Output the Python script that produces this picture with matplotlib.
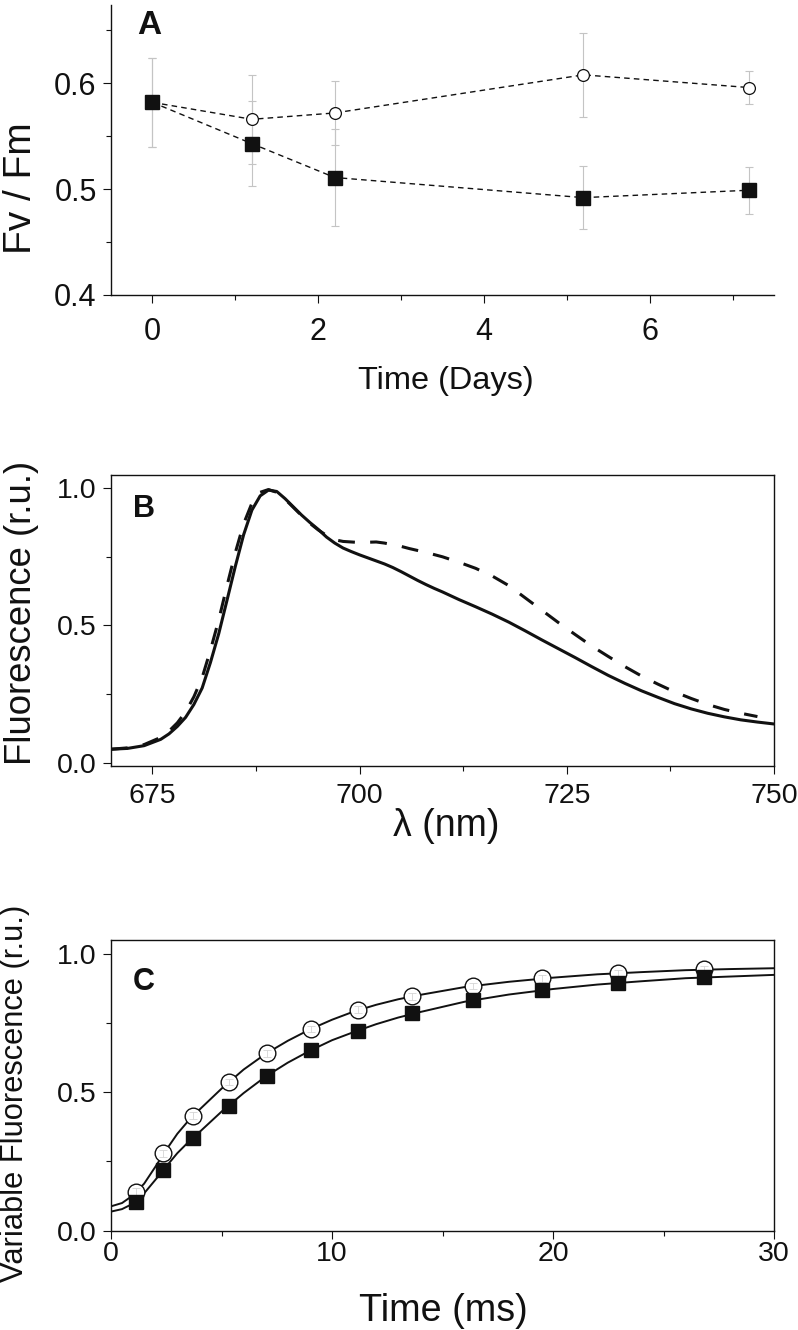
import numpy as np
import matplotlib
matplotlib.use("Agg")
import matplotlib.pyplot as plt
from matplotlib.ticker import MultipleLocator, FormatStrFormatter

W, H = 798, 1330
INK = "#111111"
ERR = "#c4c4c4"

plt.rcParams.update({"font.family": ["Liberation Sans", "DejaVu Sans"],
                     "text.color": INK, "axes.edgecolor": INK,
                     "xtick.color": INK, "ytick.color": INK})

# --- panel A: Fv/Fm over days
days = [0, 1.2, 2.2, 5.2, 7.2]
fvfm_open = [0.582, 0.566, 0.572, 0.608, 0.596]
fvfm_open_err = [0.042, 0.042, 0.030, 0.040, 0.016]
fvfm_fill = [0.582, 0.543, 0.511, 0.492, 0.499]
fvfm_fill_err = [0.042, 0.040, 0.046, 0.030, 0.022]

# --- panel B: emission spectra
wl_solid = [670, 672, 674, 676, 677, 678, 679, 680, 681, 682, 683, 684, 685, 686, 687,
            688, 689, 690, 691, 692, 693, 694, 695, 696, 697, 698, 699, 700, 701, 702,
            703, 704, 705, 706, 707, 708, 709, 710, 712, 714, 716, 718, 720, 722, 724,
            726, 728, 730, 732, 734, 736, 738, 740, 742, 744, 746, 748, 750]
fl_solid = [0.049, 0.052, 0.062, 0.085, 0.105, 0.132, 0.165, 0.212, 0.272, 0.365, 0.470,
            0.592, 0.715, 0.830, 0.920, 0.972, 0.993, 0.988, 0.962, 0.932, 0.902, 0.875,
            0.850, 0.822, 0.800, 0.782, 0.769, 0.757, 0.746, 0.735, 0.724, 0.711, 0.696,
            0.680, 0.664, 0.649, 0.635, 0.622, 0.594, 0.568, 0.541, 0.512, 0.480, 0.447,
            0.415, 0.383, 0.350, 0.318, 0.289, 0.262, 0.238, 0.215, 0.196, 0.180, 0.167,
            0.156, 0.148, 0.141]
wl_dash = [670, 672, 674, 676, 677, 678, 679, 680, 681, 682, 683, 684, 685, 686, 687, 688,
           689, 690, 691, 692, 693, 694, 695, 696, 697, 698, 699, 700, 701, 702, 703, 704,
           705, 706, 708, 710, 712, 714, 716, 718, 720, 722, 724, 726, 728, 730, 732, 734,
           736, 738, 740, 742, 744, 746, 748]
fl_dash = [0.049, 0.054, 0.066, 0.092, 0.115, 0.145, 0.185, 0.240, 0.310, 0.410, 0.520,
           0.645, 0.765, 0.870, 0.945, 0.985, 0.995, 0.985, 0.960, 0.930, 0.900, 0.872,
           0.848, 0.828, 0.812, 0.806, 0.804, 0.802, 0.803, 0.804, 0.800, 0.794, 0.788,
           0.780, 0.766, 0.750, 0.730, 0.708, 0.680, 0.645, 0.600, 0.555, 0.510, 0.467,
           0.425, 0.387, 0.350, 0.316, 0.286, 0.258, 0.234, 0.212, 0.194, 0.180, 0.168]

# --- panel C: variable fluorescence rise
t_pts = [1.13, 2.37, 3.70, 5.33, 7.04, 9.04, 11.19, 13.63, 16.39, 19.49, 22.93, 26.83]
vf_open = [0.141, 0.280, 0.415, 0.537, 0.641, 0.728, 0.798, 0.846, 0.884, 0.912, 0.930, 0.945]
vf_open_err = [0.012] * 12
vf_fill = [0.103, 0.219, 0.336, 0.451, 0.559, 0.651, 0.723, 0.788, 0.834, 0.870, 0.894, 0.916]
t_fit = [0, 0.5, 1.0, 1.5, 2.0, 2.5, 3.0, 3.5, 4.0, 5, 6, 7, 8, 9, 10, 11, 12, 13, 14,
         16, 18, 20, 22, 24, 26, 28, 30]
fit_open = [0.088, 0.100, 0.128, 0.170, 0.230, 0.292, 0.350, 0.397, 0.437, 0.513, 0.582,
            0.639, 0.686, 0.727, 0.762, 0.792, 0.816, 0.836, 0.852, 0.880, 0.899, 0.914,
            0.926, 0.934, 0.941, 0.945, 0.948]
fit_fill = [0.069, 0.078, 0.098, 0.135, 0.183, 0.232, 0.280, 0.320, 0.356, 0.430, 0.497,
            0.557, 0.607, 0.650, 0.688, 0.718, 0.746, 0.770, 0.790, 0.827, 0.853, 0.873,
            0.889, 0.901, 0.912, 0.918, 0.924]


def axes_px(fig, left, top, right, bottom):
    return fig.add_axes([left / W, 1 - bottom / H, (right - left) / W, (bottom - top) / H])


def ftext(fig, x, y, s, **kw):
    fig.text(x / W, 1 - y / H, s, ha="center", va="center", **kw)


def style(ax, labelsize, xpad, ypad=4.3):
    for s in ax.spines.values():
        s.set_linewidth(1.0)
    ax.tick_params(which="major", direction="out", length=6, width=0.8,
                   labelsize=labelsize, top=False, right=False)
    ax.tick_params(which="minor", direction="out", length=3.5, width=0.8,
                   top=False, right=False)
    ax.tick_params(axis="x", which="major", pad=xpad)
    ax.tick_params(axis="y", which="major", pad=ypad)


fig = plt.figure(figsize=(W / 100, H / 100), dpi=100)

# A
ax = axes_px(fig, 111, 5, 774, 295)
ax.errorbar(days, fvfm_open, yerr=fvfm_open_err, fmt="none", ecolor=ERR,
            elinewidth=0.8, capsize=3, capthick=0.8, zorder=1)
ax.errorbar(days, fvfm_fill, yerr=fvfm_fill_err, fmt="none", ecolor=ERR,
            elinewidth=0.8, capsize=3, capthick=0.8, zorder=1)
ax.plot(days, fvfm_open, color=INK, lw=1.0, ls="--", dashes=(4, 3), marker="o",
        ms=8.5, mfc="white", mec=INK, mew=0.9, zorder=3)
ax.plot(days, fvfm_fill, color=INK, lw=1.0, ls="--", dashes=(4, 3), marker="s",
        ms=10, mfc=INK, mec=INK, zorder=4)
ax.set_xlim(-0.5, 7.5)
ax.set_ylim(0.4, 0.674)
ax.xaxis.set_major_locator(MultipleLocator(2))
ax.xaxis.set_minor_locator(MultipleLocator(1))
ax.yaxis.set_major_locator(MultipleLocator(0.1))
ax.yaxis.set_minor_locator(MultipleLocator(0.05))
ax.yaxis.set_major_formatter(FormatStrFormatter("%.1f"))
ax.spines["top"].set_visible(False)
ax.spines["right"].set_visible(False)
style(ax, 22, 10)
ax.text(0.057, 0.931, "A", transform=ax.transAxes, ha="center", va="center",
        fontsize=24, fontweight="bold")
ftext(fig, 21, 188, "Fv / Fm", fontsize=28, rotation=90)
ftext(fig, 446, 381, "Time (Days)", fontsize=23.4)

# B
ax = axes_px(fig, 111, 475, 774, 765.7)
ax.plot(wl_solid, fl_solid, color=INK, lw=2.2, solid_capstyle="round", zorder=3)
ax.plot(wl_dash, fl_dash, color=INK, lw=2.2, ls="--", dashes=(5.5, 5), zorder=2)
ax.set_xlim(670, 750)
ax.set_ylim(-0.011, 1.048)
ax.xaxis.set_major_locator(MultipleLocator(25))
ax.xaxis.set_minor_locator(MultipleLocator(12.5))
ax.yaxis.set_major_locator(MultipleLocator(0.5))
ax.yaxis.set_minor_locator(MultipleLocator(0.25))
ax.yaxis.set_major_formatter(FormatStrFormatter("%.1f"))
style(ax, 20.5, 6.5)
ax.text(0.05, 0.883, "B", transform=ax.transAxes, ha="center", va="center",
        fontsize=22, fontweight="bold")
ftext(fig, 22, 613, "Fluorescence (r.u.)", fontsize=26.3, rotation=90)
ftext(fig, 446, 826, "λ (nm)", fontsize=27)

# C
ax = axes_px(fig, 111, 940, 774, 1230.7)
ax.plot(t_fit, fit_open, color=INK, lw=1.4, zorder=2)
ax.plot(t_fit, fit_fill, color=INK, lw=1.4, zorder=2)
ax.plot(t_pts, vf_open, ls="none", marker="o", ms=12, mfc="white", mec=INK,
        mew=1.0, zorder=3)
ax.errorbar(t_pts, vf_open, yerr=vf_open_err, fmt="none", ecolor="#d4d4d4",
            elinewidth=0.6, capsize=3, capthick=0.6, zorder=3.5)
ax.plot(t_pts, vf_fill, ls="none", marker="s", ms=10.5, mfc=INK, mec=INK, zorder=4)
ax.set_xlim(0, 30)
ax.set_ylim(0, 1.05)
ax.xaxis.set_major_locator(MultipleLocator(10))
ax.xaxis.set_minor_locator(MultipleLocator(5))
ax.yaxis.set_major_locator(MultipleLocator(0.5))
ax.yaxis.set_minor_locator(MultipleLocator(0.25))
ax.yaxis.set_major_formatter(FormatStrFormatter("%.1f"))
style(ax, 20.5, 1.5)
ax.text(0.049, 0.856, "C", transform=ax.transAxes, ha="center", va="center",
        fontsize=22, fontweight="bold")
ftext(fig, 15, 1093, "Variable Fluorescence (r.u.)", fontsize=22.2, rotation=90)
ftext(fig, 443, 1311, "Time (ms)", fontsize=27.2)

fig.savefig("out.png", dpi=100, facecolor="white")
